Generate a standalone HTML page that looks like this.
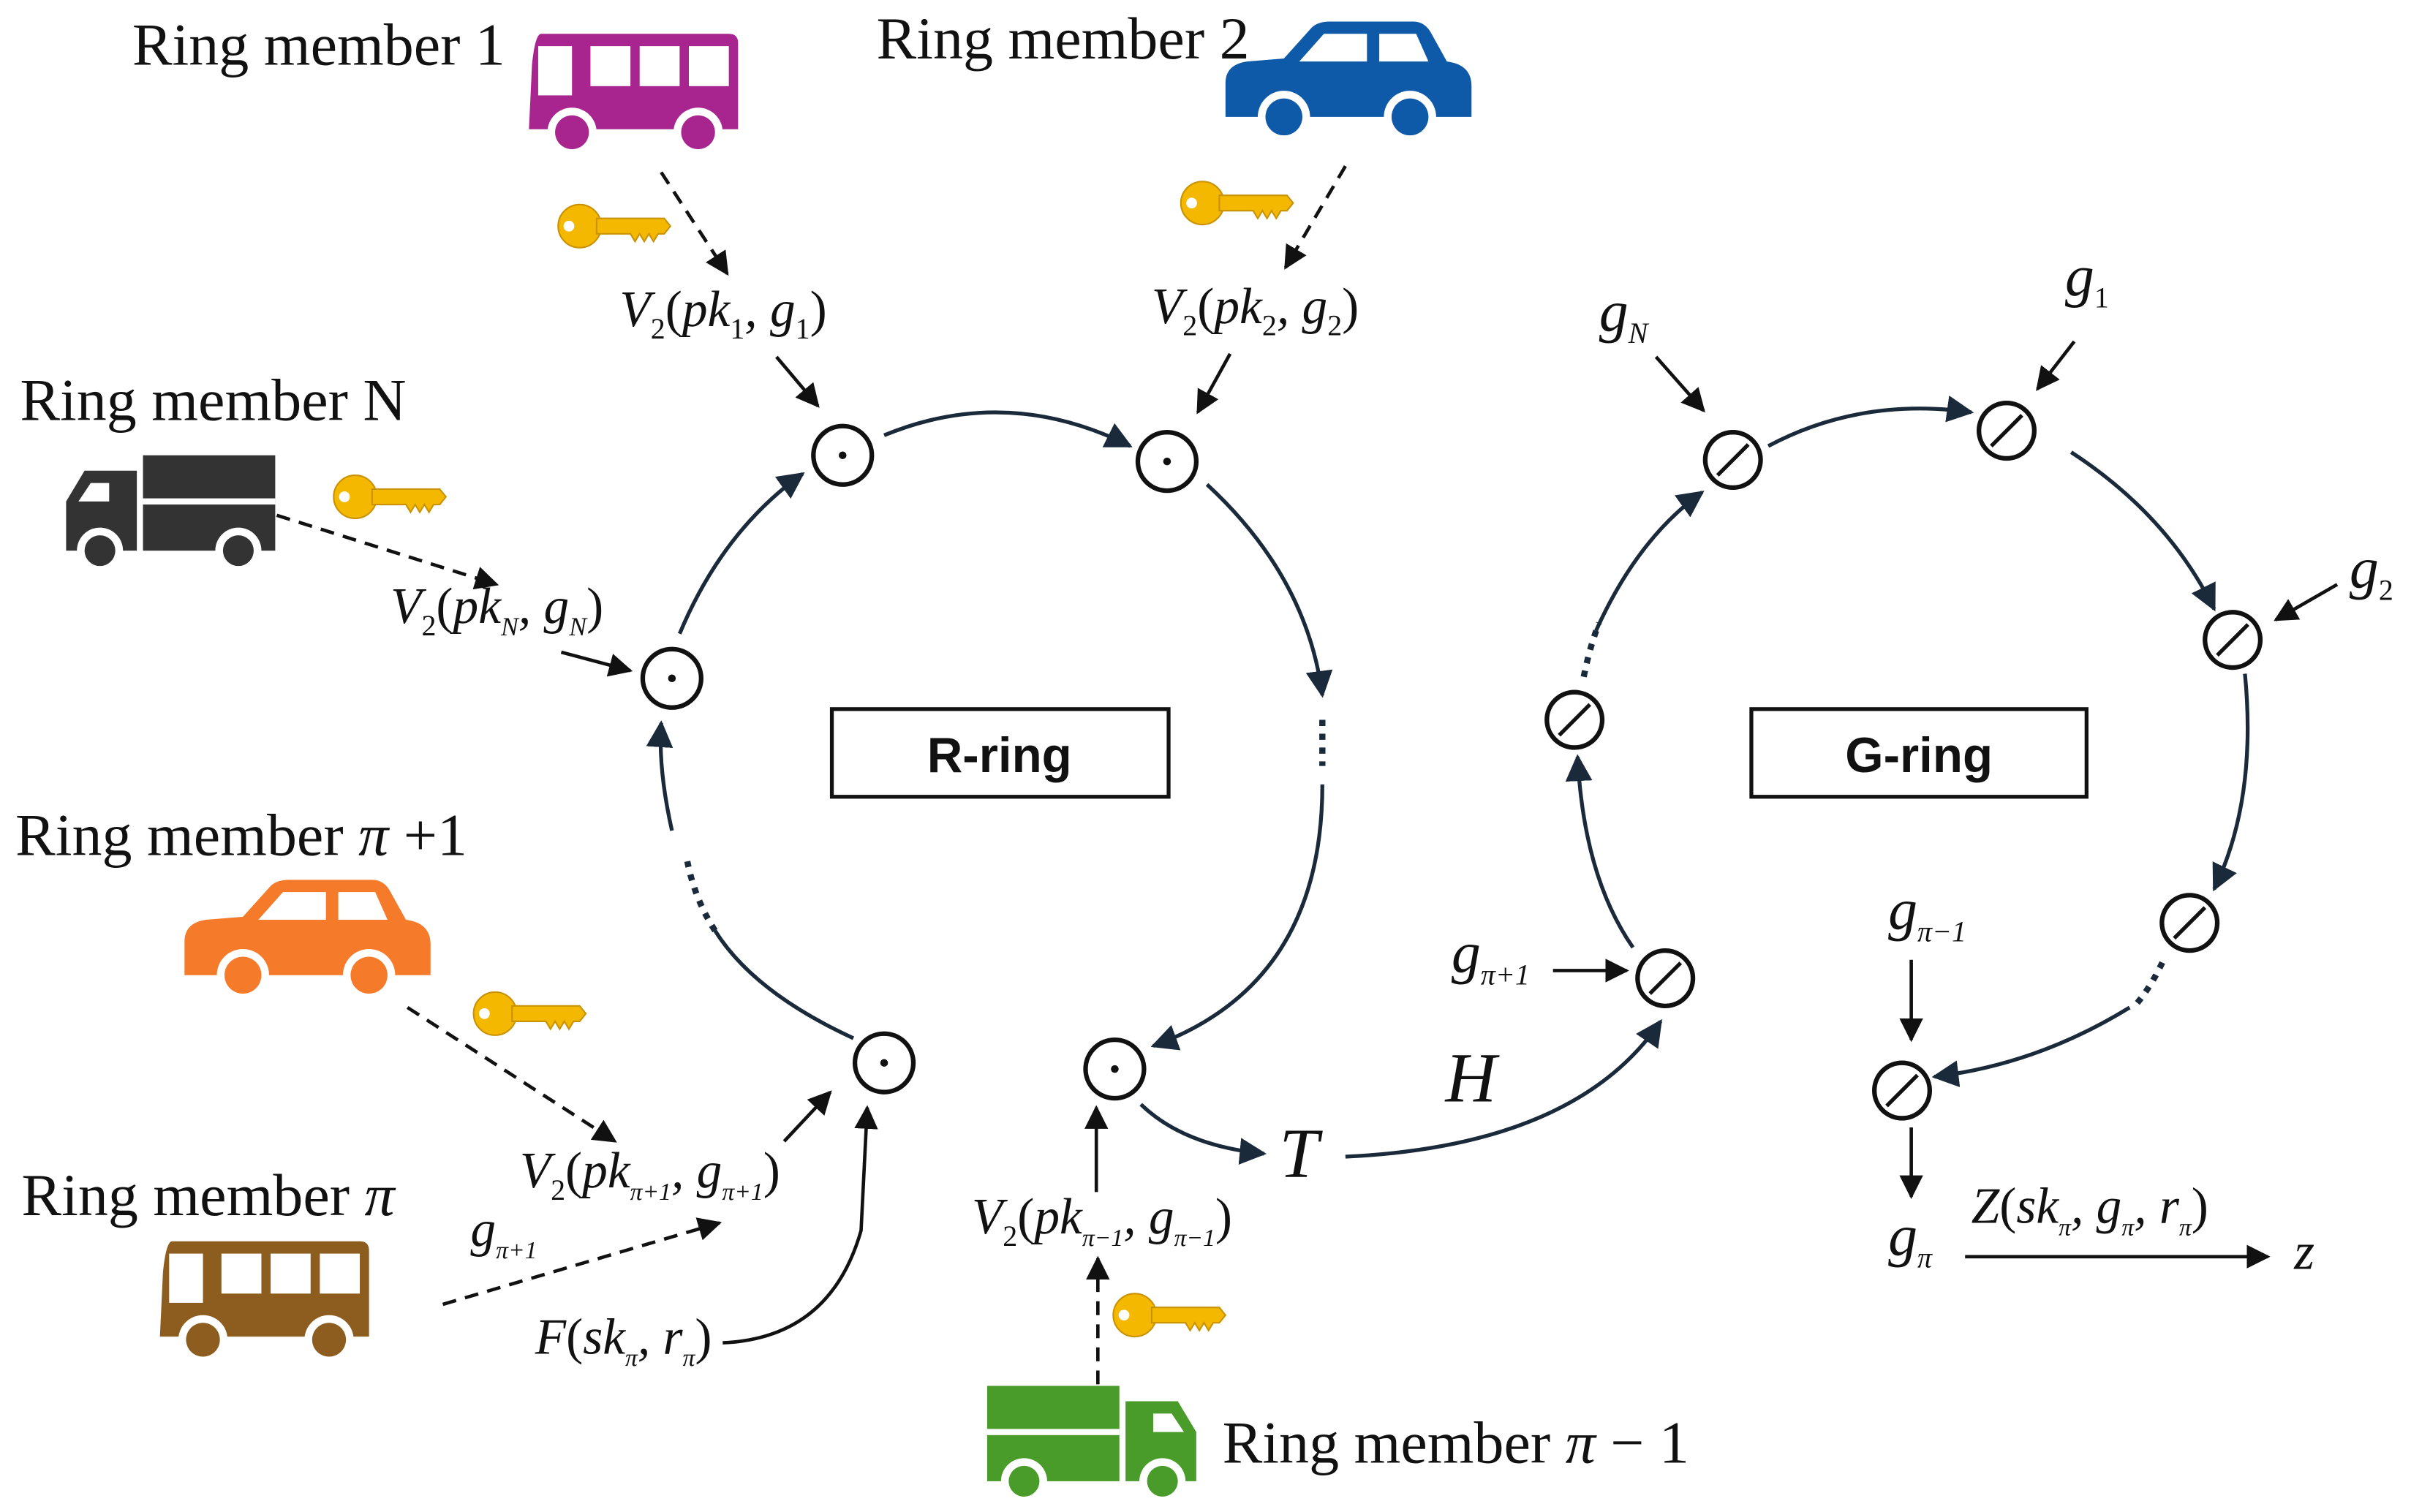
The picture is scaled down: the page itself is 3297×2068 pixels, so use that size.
<!DOCTYPE html>
<html><head><meta charset="utf-8"><style>
html,body{margin:0;padding:0;background:#fff;}
svg{display:block;}
.m{font-family:"Liberation Serif",serif;font-style:italic;fill:#111;}
.t{font-family:"Liberation Serif",serif;fill:#111;font-size:39px;}
.b{font-family:"Liberation Sans",sans-serif;font-weight:bold;fill:#111;font-size:32px;}
</style></head><body>
<svg width="3297" height="2068" viewBox="0 0 1568 983" preserveAspectRatio="none" xmlns="http://www.w3.org/2000/svg">
<defs>
<marker id="a" viewBox="0 0 10 10" refX="9" refY="5" markerWidth="7" markerHeight="7" orient="auto"><path d="M0,0 L10,5 L0,10 z" fill="#111"/></marker>
<marker id="an" viewBox="0 0 10 10" refX="9" refY="5" markerWidth="7" markerHeight="7" orient="auto"><path d="M0,0 L10,5 L0,10 z" fill="#1a2a3a"/></marker>
<g id="key"><circle cx="15" cy="15" r="14" fill="#f5b800" stroke="#c89200"/><circle cx="8" cy="15" r="3.5" fill="#fff"/><path d="M26,10 L70,10 L74,15 L70,20 L66,20 L63,25 L60,20 L57,25 L54,20 L51,25 L48,20 L26,20 z" fill="#f5b800" stroke="#c89200"/></g>
<g id="bus"><path d="M8,0 L130,0 Q136,0 136,6 L136,62 L0,62 L2,20 Q4,0 8,0 z" /><rect x="6" y="8" width="22" height="32" fill="#fff"/><rect x="40" y="8" width="26" height="26" fill="#fff"/><rect x="72" y="8" width="26" height="26" fill="#fff"/><rect x="104" y="8" width="26" height="26" fill="#fff"/><circle cx="28" cy="64" r="16" fill="#fff"/><circle cx="110" cy="64" r="16" fill="#fff"/><circle cx="28" cy="64" r="11"/><circle cx="110" cy="64" r="11"/></g>
<g id="car"><path d="M0,40 Q0,28 14,26 L38,24 L56,4 Q60,0 68,0 L122,0 Q130,0 134,8 L144,26 Q160,28 160,42 L160,62 L0,62 z"/><path d="M64,8 L92,8 L92,26 L48,26 z" fill="#fff"/><path d="M100,8 L124,8 L132,26 L100,26 z" fill="#fff"/><circle cx="38" cy="62" r="17" fill="#fff"/><circle cx="120" cy="62" r="17" fill="#fff"/><circle cx="38" cy="62" r="12"/><circle cx="120" cy="62" r="12"/></g>
<g id="truck"><rect x="50" y="0" width="86" height="62"/><path d="M0,30 L12,10 L46,10 L46,62 L0,62 z"/><path d="M8,30 L16,18 L28,18 L28,30 z" fill="#fff"/><rect x="50" y="28" width="86" height="4" fill="#fff"/><circle cx="22" cy="62" r="15" fill="#fff"/><circle cx="112" cy="62" r="15" fill="#fff"/><circle cx="22" cy="62" r="10"/><circle cx="112" cy="62" r="10"/></g>
</defs>
<rect width="1568" height="983" fill="#fff"/>

<use href="#bus" x="344" y="22" fill="#a8248e"/>
<use href="#car" x="797" y="14" fill="#0f5aa8"/>
<use href="#truck" x="43" y="296" fill="#333"/>
<use href="#car" x="120" y="572" fill="#f57a2a"/>
<use href="#bus" x="104" y="807" fill="#8c5d1e"/>
<g transform="translate(778,963) scale(-1,1)"><use href="#truck" x="0" y="-62" fill="#4a9c2a"/></g>

<use href="#key" x="362" y="132"/>
<use href="#key" x="767" y="117"/>
<use href="#key" x="216" y="308"/>
<use href="#key" x="307" y="644"/>
<use href="#key" x="723" y="840"/>

<text class="t" x="86" y="42">Ring member 1</text>
<text class="t" x="570" y="38">Ring member 2</text>
<text class="t" x="13" y="273">Ring member N</text>
<text class="t" x="10" y="556">Ring member <tspan font-style="italic">π</tspan> +1</text>
<text class="t" x="14" y="790">Ring member <tspan font-style="italic">π</tspan></text>
<text class="t" x="795" y="951">Ring member <tspan font-style="italic">π</tspan> − 1</text>

<rect x="541" y="461" width="219" height="57" fill="none" stroke="#111" stroke-width="2.5"/>
<text class="b" x="650" y="502" text-anchor="middle">R-ring</text>
<rect x="1139" y="461" width="218" height="57" fill="none" stroke="#111" stroke-width="2.5"/>
<text class="b" x="1248" y="502" text-anchor="middle">G-ring</text>

<g class="m" font-size="33">
<text x="403" y="212">V<tspan font-size="19" dy="8" font-style="normal">2</tspan><tspan dy="-8" font-style="normal">(</tspan>pk<tspan font-size="19" dy="8" font-style="normal">1</tspan><tspan dy="-8">, g</tspan><tspan font-size="19" dy="8" font-style="normal">1</tspan><tspan dy="-8" font-style="normal">)</tspan></text>
<text x="749" y="210">V<tspan font-size="19" dy="8" font-style="normal">2</tspan><tspan dy="-8" font-style="normal">(</tspan>pk<tspan font-size="19" dy="8" font-style="normal">2</tspan><tspan dy="-8">, g</tspan><tspan font-size="19" dy="8" font-style="normal">2</tspan><tspan dy="-8" font-style="normal">)</tspan></text>
<text x="254" y="405">V<tspan font-size="19" dy="8" font-style="normal">2</tspan><tspan dy="-8" font-style="normal">(</tspan>pk<tspan font-size="17" dy="8">N</tspan><tspan dy="-8">, g</tspan><tspan font-size="17" dy="8">N</tspan><tspan dy="-8" font-style="normal">)</tspan></text>
<text x="338" y="772">V<tspan font-size="19" dy="8" font-style="normal">2</tspan><tspan dy="-8" font-style="normal">(</tspan>pk<tspan font-size="16" dy="8">π+1</tspan><tspan dy="-8">, g</tspan><tspan font-size="16" dy="8">π+1</tspan><tspan dy="-8" font-style="normal">)</tspan></text>
<text x="632" y="802">V<tspan font-size="19" dy="8" font-style="normal">2</tspan><tspan dy="-8" font-style="normal">(</tspan>pk<tspan font-size="16" dy="8">π−1</tspan><tspan dy="-8">, g</tspan><tspan font-size="16" dy="8">π−1</tspan><tspan dy="-8" font-style="normal">)</tspan></text>
<text x="306" y="810">g<tspan font-size="16" dy="8">π+1</tspan></text>
<text x="348" y="880">F<tspan font-style="normal">(</tspan>sk<tspan font-size="16" dy="8">π</tspan><tspan dy="-8">, r</tspan><tspan font-size="16" dy="8">π</tspan><tspan dy="-8" font-style="normal">)</tspan></text>
<text x="1040" y="215" font-size="38">g<tspan font-size="19" dy="8">N</tspan></text>
<text x="1343" y="192" font-size="38">g<tspan font-size="19" dy="8" font-style="normal">1</tspan></text>
<text x="1528" y="382" font-size="38">g<tspan font-size="19" dy="8" font-style="normal">2</tspan></text>
<text x="944" y="632" font-size="38">g<tspan font-size="19" dy="8">π+1</tspan></text>
<text x="1228" y="604" font-size="38">g<tspan font-size="19" dy="8">π−1</tspan></text>
<text x="1228" y="816" font-size="38">g<tspan font-size="19" dy="8">π</tspan></text>
<text x="1282" y="795">Z<tspan font-style="normal">(</tspan>sk<tspan font-size="16" dy="8">π</tspan><tspan dy="-8">, g</tspan><tspan font-size="16" dy="8">π</tspan><tspan dy="-8">, r</tspan><tspan font-size="16" dy="8">π</tspan><tspan dy="-8" font-style="normal">)</tspan></text>
<text x="1492" y="825" font-size="34">z</text>
<text x="832" y="765" font-size="46">T</text>
<text x="940" y="716" font-size="46">H</text>
</g>

<g fill="none" stroke="#111" stroke-width="3">
<circle cx="548" cy="296" r="19"/><circle cx="759" cy="300" r="19"/><circle cx="437" cy="441" r="19"/><circle cx="575" cy="691" r="19"/><circle cx="725" cy="695" r="19"/>
<circle cx="1127" cy="299" r="18"/><circle cx="1305" cy="280" r="18"/><circle cx="1452" cy="416" r="18"/><circle cx="1024" cy="468" r="18"/><circle cx="1083" cy="636" r="18"/><circle cx="1424" cy="600" r="18"/><circle cx="1237" cy="709" r="18"/>
</g>
<g fill="#111"><circle cx="548" cy="296" r="2.5"/><circle cx="759" cy="300" r="2.5"/><circle cx="437" cy="441" r="2.5"/><circle cx="575" cy="691" r="2.5"/><circle cx="725" cy="695" r="2.5"/></g>
<g stroke="#111" stroke-width="2.5">
<line x1="1117" y1="309" x2="1137" y2="289"/><line x1="1295" y1="290" x2="1315" y2="270"/><line x1="1442" y1="426" x2="1462" y2="406"/><line x1="1014" y1="478" x2="1034" y2="458"/><line x1="1073" y1="646" x2="1093" y2="626"/><line x1="1414" y1="610" x2="1434" y2="590"/><line x1="1227" y1="719" x2="1247" y2="699"/>
</g>

<g fill="none" stroke="#1a2a3a" stroke-width="2.5">
<path d="M575,283 Q655,250 735,290" marker-end="url(#an)"/>
<path d="M785,315 Q850,375 860,452" marker-end="url(#an)"/>
<path d="M860,510 Q860,640 750,680" marker-end="url(#an)"/>
<path d="M555,675 Q490,645 465,605"/>
<path d="M437,540 Q428,500 430,470" marker-end="url(#an)"/>
<path d="M442,412 Q470,345 522,308" marker-end="url(#an)"/>
<path d="M1150,290 Q1210,258 1282,268" marker-end="url(#an)"/>
<path d="M1347,294 Q1410,335 1440,396" marker-end="url(#an)"/>
<path d="M1460,438 Q1468,520 1440,578" marker-end="url(#an)"/>
<path d="M1385,655 Q1325,692 1258,700" marker-end="url(#an)"/>
<path d="M1062,616 Q1030,570 1026,492" marker-end="url(#an)"/>
<path d="M1038,410 Q1065,350 1107,320" marker-end="url(#an)"/>
<path d="M742,718 Q770,745 822,750" marker-end="url(#an)"/>
<path d="M875,752 Q1025,745 1080,664" marker-end="url(#an)"/>
</g>
<g stroke="#1a2a3a" stroke-width="4" stroke-dasharray="4,5" fill="none">
<line x1="860" y1="468" x2="860" y2="498"/>
<path d="M465,605 Q452,585 447,560"/>
<path d="M1390,652 Q1400,640 1408,622"/>
<path d="M1030,440 Q1034,420 1040,405"/>
</g>

<g stroke="#111" stroke-width="2.2" fill="none">
<line x1="505" y1="232" x2="532" y2="264" marker-end="url(#a)"/>
<line x1="800" y1="230" x2="779" y2="268" marker-end="url(#a)"/>
<line x1="365" y1="424" x2="410" y2="436" marker-end="url(#a)"/>
<line x1="510" y1="742" x2="540" y2="710" marker-end="url(#a)"/>
<path d="M470,873 Q540,870 560,800 L564,720" marker-end="url(#a)"/>
<line x1="713" y1="775" x2="713" y2="720" marker-end="url(#a)"/>
<line x1="1077" y1="232" x2="1108" y2="267" marker-end="url(#a)"/>
<line x1="1349" y1="222" x2="1325" y2="253" marker-end="url(#a)"/>
<line x1="1520" y1="380" x2="1480" y2="403" marker-end="url(#a)"/>
<line x1="1010" y1="631" x2="1058" y2="631" marker-end="url(#a)"/>
<line x1="1243" y1="624" x2="1243" y2="676" marker-end="url(#a)"/>
<line x1="1243" y1="733" x2="1243" y2="778" marker-end="url(#a)"/>
<line x1="1278" y1="817" x2="1475" y2="817" marker-end="url(#a)"/>
</g>
<g stroke="#111" stroke-width="2.2" fill="none" stroke-dasharray="9,6">
<line x1="430" y1="112" x2="473" y2="178" marker-end="url(#a)"/>
<line x1="875" y1="108" x2="836" y2="174" marker-end="url(#a)"/>
<line x1="180" y1="335" x2="323" y2="380" marker-end="url(#a)"/>
<line x1="265" y1="655" x2="400" y2="742" marker-end="url(#a)"/>
<line x1="288" y1="848" x2="468" y2="795" marker-end="url(#a)"/>
<line x1="714" y1="900" x2="714" y2="818" marker-end="url(#a)"/>
</g>
</svg>
</body></html>
